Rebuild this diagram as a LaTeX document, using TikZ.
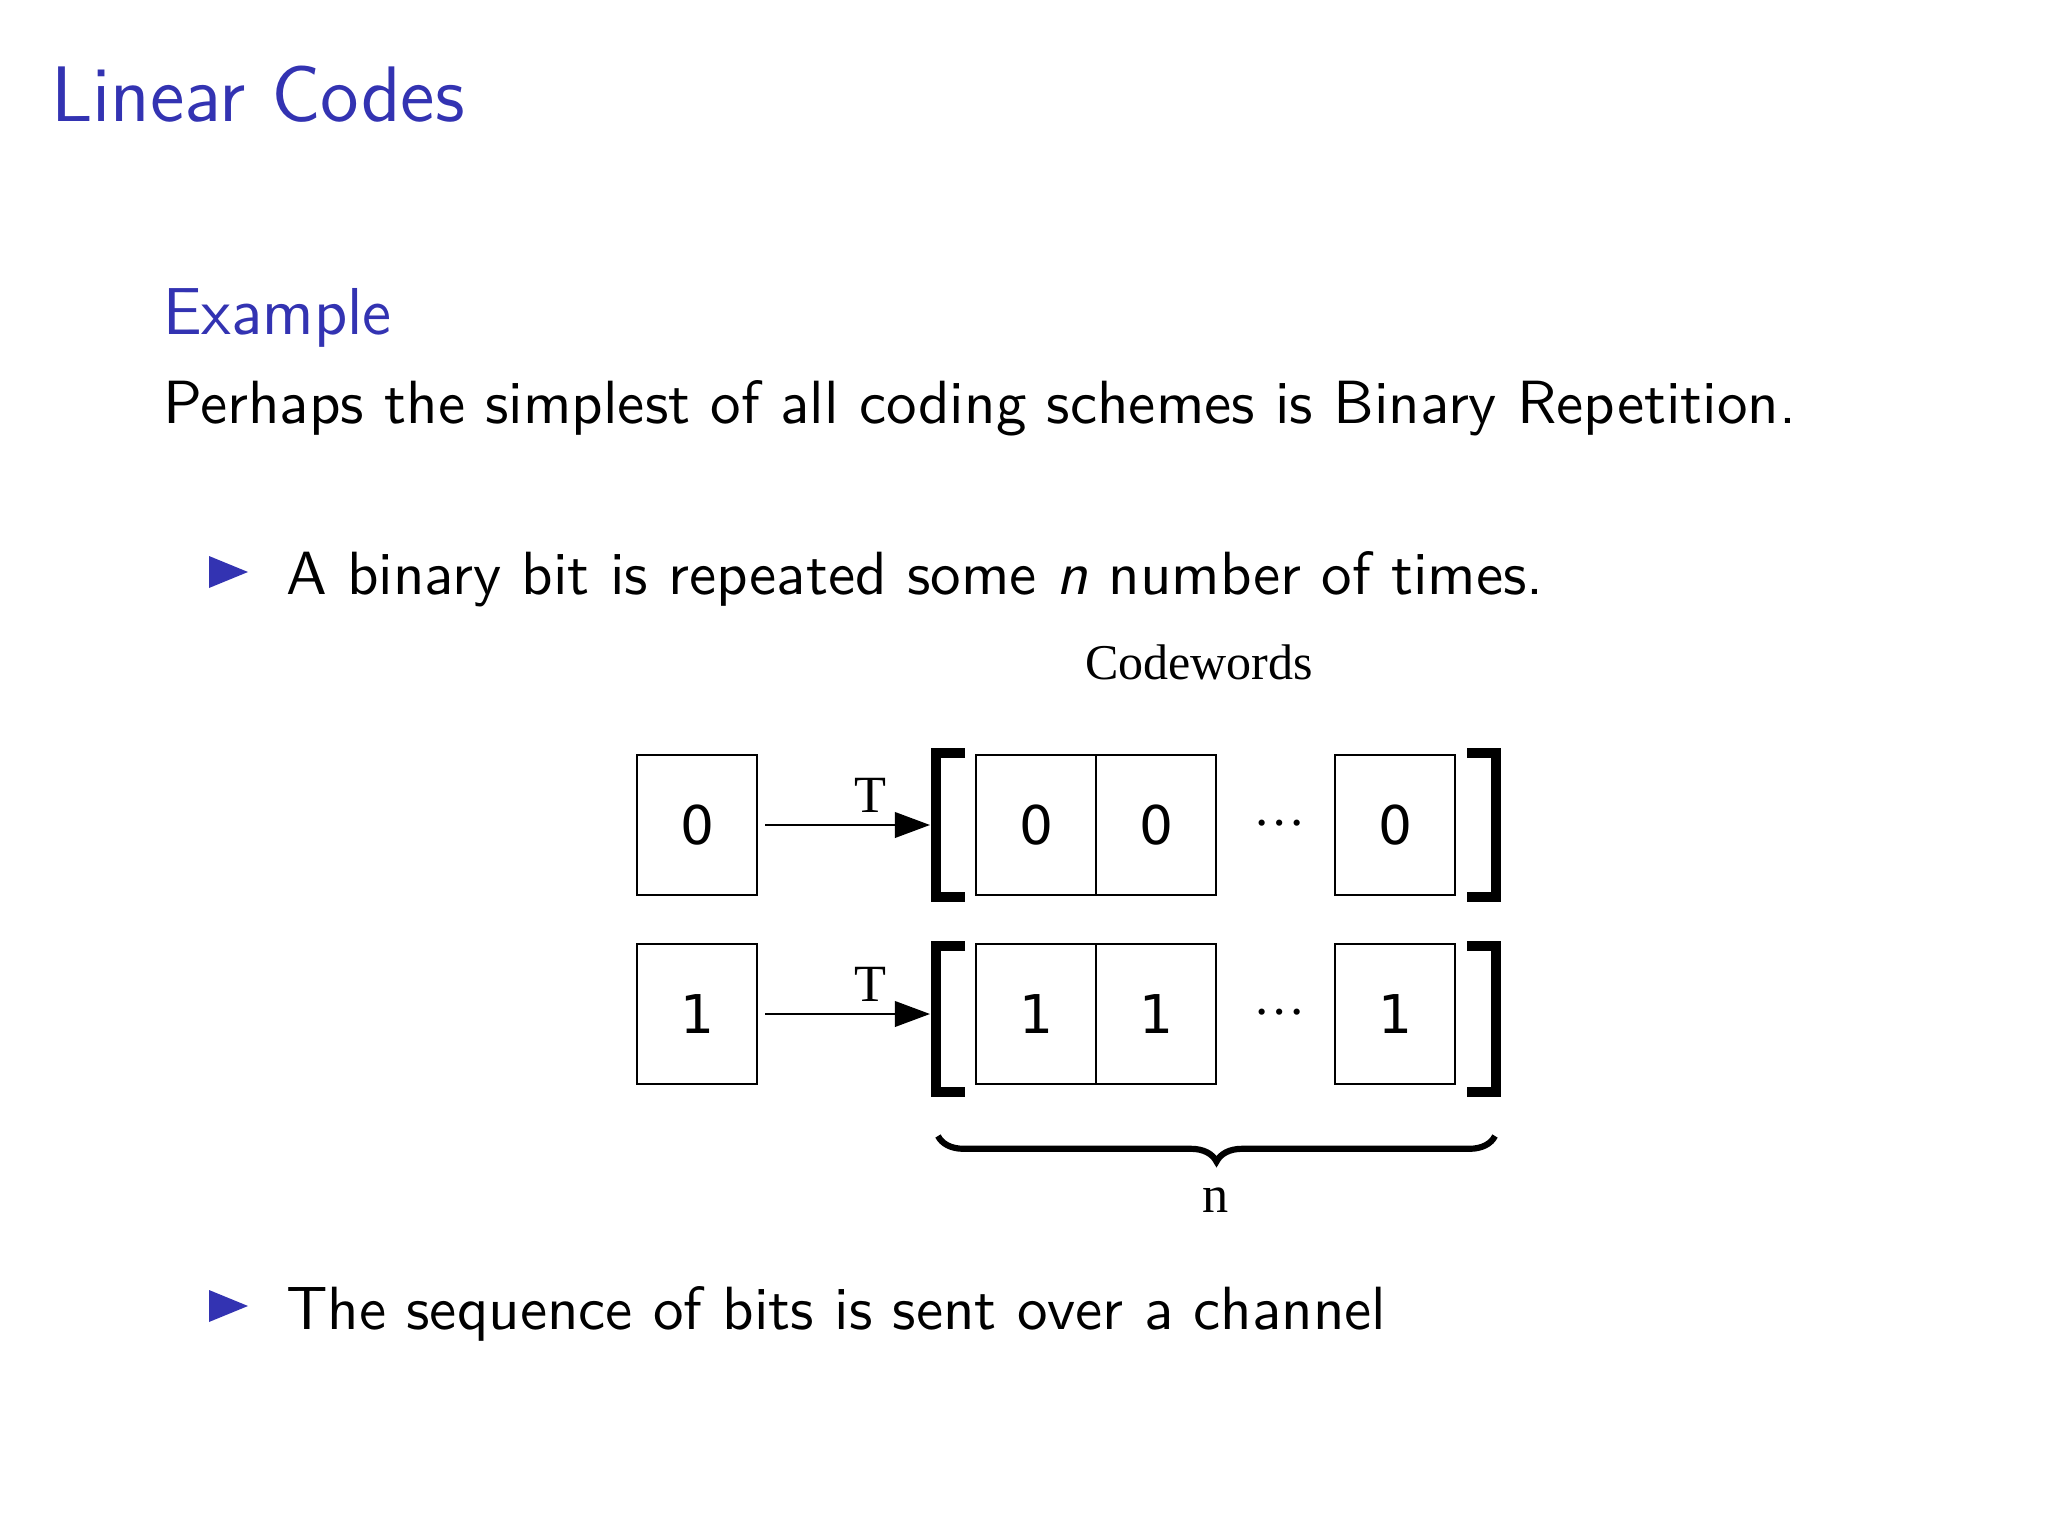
\documentclass[tikz,border=0pt]{standalone}
\usepackage{fontspec}
\newfontfamily\serifT{Liberation Serif}
\newfontfamily\digitF{DejaVu Sans}
\usetikzlibrary{decorations.pathreplacing,arrows.meta}
\definecolor{bblue}{RGB}{51,51,178}
\begin{document}
\begin{tikzpicture}[x=0.0625mm,y=-0.0625mm,
  txt/.style={anchor=base west,inner sep=0pt,font=\sffamily\fontsize{10.85}{12}\selectfont},
  ttl/.style={anchor=base west,inner sep=0pt,text=bblue,font=\sffamily\fontsize{14}{16}\selectfont},
  bit/.style={draw,line width=0.4pt,minimum width=7.5mm,minimum height=8.75mm,inner sep=0pt,font=\digitF\fontsize{9.5}{11}\selectfont},
  ser/.style={inner sep=0pt,font=\serifT\fontsize{9.3}{11}\selectfont},
  brk/.style={line width=1.8pt},
  arr/.style={line width=0.4pt,-{Triangle[length=2.2mm,width=1.6mm]}},
  bul/.style={fill=bblue}]
\useasboundingbox (0,0) rectangle (2048,1536);
\fill[white] (0,0) rectangle (2048,1536);
% texts
\node[ttl] (title) at (50,121) {Linear Codes};
\node[ttl,font=\sffamily\fontsize{11.8}{13}\selectfont] (ex) at (162,334) {Example};
\node[txt] (p1) at (162,424) {Perhaps the simplest of all coding schemes is Binary Repetition.};
\fill[bul] (209,556) -- (248,572) -- (209,588) -- cycle;
\node[txt] (b1) at (285,594) {A binary bit is repeated some \textit{n} number of times.};
\fill[bul] (209,1290) -- (248,1306) -- (209,1322) -- cycle;
\node[txt] (b2) at (285,1329) {The sequence of bits is sent over a channel};
% diagram
\node[ser,anchor=base,font=\serifT\fontsize{8.9}{11}\selectfont] (cw) at (1199,679) {Codewords};
% row 0
\node[bit] (a0) at (697,825) {0};
\node[bit] (c01) at (1036,825) {0};
\node[bit] (c02) at (1156,825) {0};
\node[ser] (d0) at (1280,823) {…};
\node[bit] (c0n) at (1395,825) {0};
\coordinate (lb0) at (930,825);
\draw[arr] (a0.east) ++(7,0) coordinate (s0) -- (lb0) node[ser,pos=0.64,above=2pt] (t0) {T};
\draw[brk] (965,753) -| (936,897) -- (965,897);
\draw[brk] (1467,753) -| (1496,897) -- (1467,897);
% row 1
\node[bit] (a1) at (697,1014) {1};
\node[bit] (c11) at (1036,1014) {1};
\node[bit] (c12) at (1156,1014) {1};
\node[ser] (d1) at (1280,1012) {…};
\node[bit] (c1n) at (1395,1014) {1};
\coordinate (lb1) at (930,1014);
\draw[arr] (a1.east) ++(7,0) coordinate (s1) -- (lb1) node[ser,pos=0.64,above=2pt] (t1) {T};
\draw[brk] (965,946) -| (936,1092) -- (965,1092);
\draw[brk] (1467,946) -| (1496,1092) -- (1467,1092);
% brace
\coordinate (brL) at (938,1136);
\coordinate (brR) at (1495,1136);
\draw[line width=1.1pt,decorate,decoration={brace,amplitude=1.6mm,mirror}] (brL) -- (brR);
\node[ser,anchor=base] (nn) at (1216,1212) {n};
\end{tikzpicture}
\end{document}
